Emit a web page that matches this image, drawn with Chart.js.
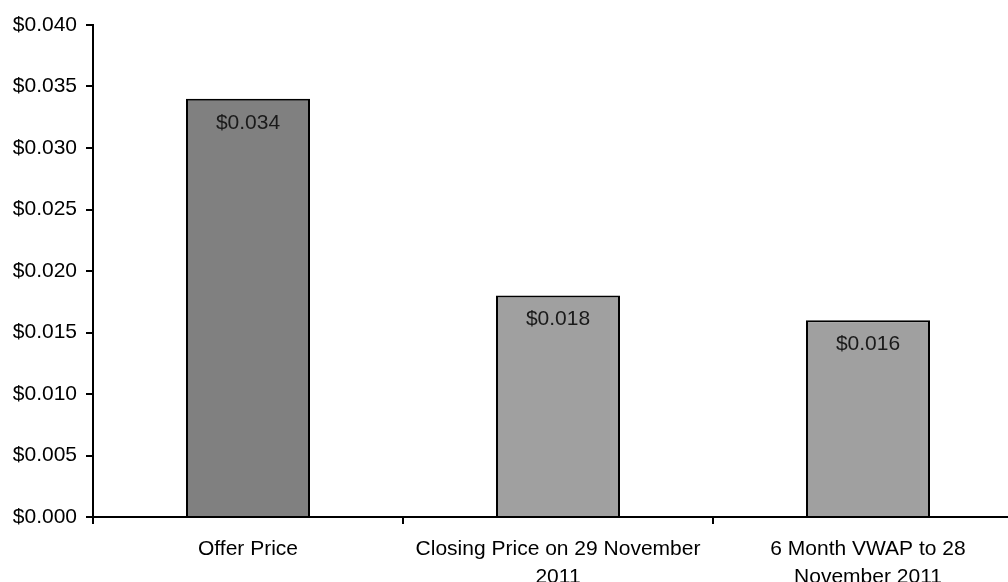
<!DOCTYPE html>
<html>
<head>
<meta charset="utf-8">
<script src="https://cdn.jsdelivr.net/npm/chart.js@4/dist/chart.umd.min.js"></script>
<style>
  body { margin: 0; background: #fff; }
  #wrap { width: 1008px; height: 582px; overflow: hidden; position: relative; }
  canvas { display: block; }
</style>
</head>
<body>
<div id="wrap">
  <canvas id="priceChart" width="1040" height="600"></canvas>
</div>
<script>
// chart data
const categories = [
    "Offer Price",
    ["Closing Price on 29 November", "2011"],
    ["6 Month VWAP to 28", "November 2011"]
];
const prices = [0.034, 0.018, 0.016];
const barColors = ["#808080", "#a0a0a0", "#a0a0a0"];
const yMin = 0, yMax = 0.04, yStep = 0.005;

const fontFamily = "'Liberation Sans', Arial, sans-serif";

// draws the $ value inside the top of each bar
const valueLabels = {
    id: "valueLabels",
    afterDatasetsDraw(chart) {
        const ctx = chart.ctx;
        const meta = chart.getDatasetMeta(0);
        ctx.save();
        ctx.font = "21px " + fontFamily;
        ctx.fillStyle = "#1a1a1a";
        ctx.textAlign = "center";
        ctx.textBaseline = "middle";
        meta.data.forEach((bar, i) => {
            ctx.fillText("$" + prices[i].toFixed(3), bar.x, bar.y + 24);
        });
        ctx.restore();
    }
};

const ctx = document.getElementById("priceChart").getContext("2d");

new Chart(ctx, {
    type: "bar",
    data: {
        labels: categories,
        datasets: [{
            data: prices,
            backgroundColor: barColors,
            borderColor: "#000",
            borderWidth: 2,
            barPercentage: 0.4,
            categoryPercentage: 1
        }]
    },
    options: {
        responsive: false,
        animation: false,
        devicePixelRatio: 1,
        layout: { padding: { top: 25, right: 17, left: 0, bottom: 0 } },
        plugins: {
            legend: { display: false },
            tooltip: { enabled: false }
        },
        scales: {
            x: {
                afterFit(scale) { scale.height = 83; },
                grid: {
                    drawOnChartArea: false,
                    color: "#000",
                    lineWidth: 2,
                    tickLength: 7
                },
                border: { color: "#000", width: 2 },
                ticks: {
                    color: "#000",
                    padding: 12,
                    maxRotation: 0,
                    autoSkip: false,
                    font: { family: fontFamily, size: 21, lineHeight: 1.3 }
                }
            },
            y: {
                min: yMin,
                max: yMax,
                afterFit(scale) { scale.width = 93; },
                grid: {
                    drawOnChartArea: false,
                    color: "#000",
                    lineWidth: 2,
                    tickLength: 7
                },
                border: { color: "#000", width: 2 },
                ticks: {
                    stepSize: yStep,
                    color: "#000",
                    padding: 9,
                    font: { family: fontFamily, size: 21 },
                    callback: (v) => "$" + v.toFixed(3)
                }
            }
        }
    },
    plugins: [valueLabels]
});
</script>
</body>
</html>
